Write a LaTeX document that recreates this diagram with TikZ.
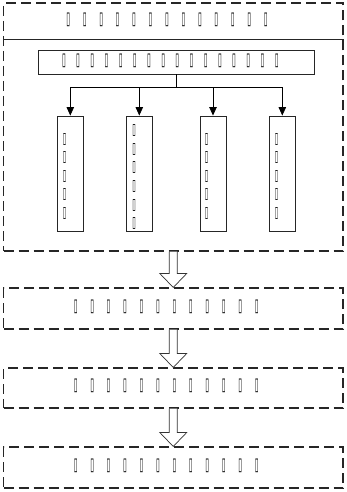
\documentclass[tikz,border=0pt]{standalone}
\usepackage{fontspec}
\usepackage{graphicx}
\newfontfamily\dvs{DejaVu Sans Bold}
\usetikzlibrary{arrows.meta,calc}
\newcommand\tfg[2]{\resizebox{#1pt}{#2pt}{\dvs ▯}}
\newcommand\tfrow[2]{\foreach \i in {1,...,#1}{\makebox[#2pt]{\tfg{3.8}{11.5}}}}
\newcommand\tfcol[1]{\vbox{\offinterlineskip\foreach \i in {1,...,#1}{\hbox to 4pt{\hss\tfg{3.5}{10}\hss}\vskip 6.7pt}}}
\tikzset{
  dbox/.style={draw=black!85, line width=1.1pt, dash pattern=on 10pt off 5pt, inner sep=0pt},
  sbox/.style={draw=black!85, line width=0.9pt, inner sep=0pt},
  txt/.style={inner sep=0pt},
  lnk/.style={draw=black, line width=0.8pt},
  tip/.style={lnk, -{Triangle[width=7.5pt,length=8.5pt]}},
  harr/.style={draw=black!80, line width=0.7pt, fill=white}
}
\newcommand\harrow[2]{\draw[harr] ($(#1.south)+(-4,0)$) -- ($(#2.north)+(-4,-14)$) -- ($(#2.north)+(-13.5,-14)$) -- (#2.north) -- ($(#2.north)+(13.5,-14)$) -- ($(#2.north)+(4,-14)$) -- ($(#1.south)+(4,0)$);}
\begin{document}
\begin{tikzpicture}[x=1pt,y=-1pt]
\useasboundingbox (0,0) rectangle (347,492);
% top group
\node[dbox, minimum width=339.5pt, minimum height=248pt] (outer) at (173.25,127) {};
\draw[sbox] ($(outer.north west)+(0,37)$) -- ($(outer.north east)+(0,37)$);
\node[txt] (title) at (167,20) {\tfrow{13}{16.46}};
\node[sbox, minimum width=276pt, minimum height=24pt] (bar) at (176,62) {};
\node[txt] (bartext) at (170.3,61) {\tfrow{16}{14.18}};
\coordinate (j) at ($(bar.south)+(0,13)$);
\foreach \n/\x in {c1/70.3, c2/139.3, c3/213, c4/282.3}{
  \node[sbox, minimum width=26pt, minimum height=115pt] (\n) at (\x,173.5) {};
}
\node[txt, anchor=north] (t1) at ($(c1.north)+(-5.6,17.3)$) {\tfcol{5}};
\node[txt, anchor=north] (t2) at ($(c2.north)+(-5.3,9)$) {\tfcol{6}};
\node[txt, anchor=north] (t3) at ($(c3.north)+(-6.3,17.3)$) {\tfcol{5}};
\node[txt, anchor=north] (t4) at ($(c4.north)+(-5.6,17.3)$) {\tfcol{5}};
\draw[lnk] (bar.south) -- (j);
\draw[lnk] (c1.north |- j) -- (c4.north |- j);
\foreach \n in {c1,c2,c3,c4}{\draw[tip] (\n.north |- j) -- (\n.north);}
% lower boxes
\node[dbox, minimum width=339.5pt, minimum height=41pt] (b2) at (173.25,308.5) {};
\node[txt] (b2t) at (166.2,306.8) {\tfrow{12}{16.45}};
\node[dbox, minimum width=339.5pt, minimum height=40pt] (b3) at (173.25,388) {};
\node[txt] (b3t) at (166.2,386.2) {\tfrow{12}{16.45}};
\node[dbox, minimum width=339.5pt, minimum height=41pt] (b4) at (173.25,467.5) {};
\node[txt] (b4t) at (166.2,466) {\tfrow{12}{16.45}};
\harrow{outer}{b2}
\harrow{b2}{b3}
\harrow{b3}{b4}
\end{tikzpicture}
\end{document}
